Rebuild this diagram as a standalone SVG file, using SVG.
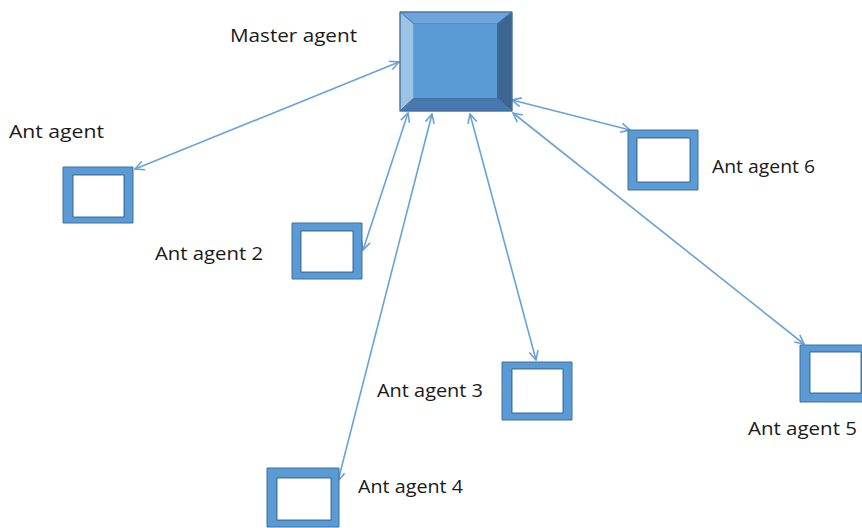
<svg xmlns="http://www.w3.org/2000/svg" width="862" height="528" viewBox="0 0 862 528">
  <defs>
    <style>
      .lbl { font-family: "Open Sans", "Noto Sans", "Liberation Sans", sans-serif; font-size: 18px; fill: #1a1a1a; }
      .frame { fill: #5b9bd5; stroke: #41719c; stroke-width: 1; fill-rule: evenodd; }
      .hole { fill: #ffffff; stroke: #41719c; stroke-width: 1; }
      .link { stroke: #68a2da; stroke-width: 1.6; fill: none; marker-start: url(#tip); marker-end: url(#tip); }
      .bevel { stroke: #41719c; stroke-width: 0.8; }
    </style>
    <marker id="tip" viewBox="0 0 11 11" refX="10" refY="5.5" markerWidth="11" markerHeight="11" markerUnits="userSpaceOnUse" orient="auto-start-reverse">
      <path d="M1,1 L10,5.5 L1,10" fill="none" stroke="#68a2da" stroke-width="1.6"/>
    </marker>
  </defs>

  <rect width="862" height="528" fill="#ffffff"/>

  <!-- connectors -->
  <g id="connectors">
    <line class="link" x1="399" y1="62" x2="135" y2="169"/>
    <line class="link" x1="408" y1="113" x2="363" y2="250"/>
    <line class="link" x1="432" y1="114" x2="338" y2="481"/>
    <line class="link" x1="470" y1="114" x2="536" y2="360"/>
    <line class="link" x1="513" y1="113" x2="804" y2="344"/>
    <line class="link" x1="512" y1="100" x2="630" y2="130"/>
  </g>

  <!-- master agent: bevelled box -->
  <g id="master">
    <polygon points="400,12 512,12 497,24 414,24" fill="#6fa3db" class="bevel"/>
    <polygon points="400,12 414,24 414,98 400,111" fill="#9dc3e6" class="bevel"/>
    <polygon points="512,12 512,111 497,98 497,24" fill="#3c6591" class="bevel"/>
    <polygon points="400,111 414,98 497,98 512,111" fill="#4878b0" class="bevel"/>
    <rect x="414" y="24" width="83" height="74" fill="#5b9bd5"/>
    <rect x="400" y="12" width="112" height="99" fill="none" stroke="#41719c" stroke-width="1"/>
    <text class="lbl" x="230" y="42" textLength="127" lengthAdjust="spacingAndGlyphs">Master agent</text>
  </g>

  <g id="ant1">
    <path class="frame" d="M63,167 H133 V223 H63 Z M73,175 V217 H124 V175 Z"/>
    <rect class="hole" x="73" y="175" width="51" height="42"/>
    <text class="lbl" x="9" y="138" textLength="95" lengthAdjust="spacingAndGlyphs">Ant agent</text>
  </g>

  <g id="ant2">
    <path class="frame" d="M292,223 H362 V279 H292 Z M301,231 V272 H353 V231 Z"/>
    <rect class="hole" x="301" y="231" width="52" height="41"/>
    <text class="lbl" x="155" y="260" textLength="108" lengthAdjust="spacingAndGlyphs">Ant agent 2</text>
  </g>

  <g id="ant3">
    <path class="frame" d="M502,362 H572 V420 H502 Z M512,369 V413 H563 V369 Z"/>
    <rect class="hole" x="512" y="369" width="51" height="44"/>
    <text class="lbl" x="377" y="397" textLength="106" lengthAdjust="spacingAndGlyphs">Ant agent 3</text>
  </g>

  <g id="ant4">
    <path class="frame" d="M267,468 H339 V527 H267 Z M277,478 V520 H331 V478 Z"/>
    <rect class="hole" x="277" y="478" width="54" height="42"/>
    <text class="lbl" x="358" y="493" textLength="105" lengthAdjust="spacingAndGlyphs">Ant agent 4</text>
  </g>

  <g id="ant5">
    <path class="frame" d="M800,345 H870 V402 H800 Z M810,352 V393 H861 V352 Z"/>
    <rect class="hole" x="810" y="352" width="51" height="41"/>
    <text class="lbl" x="748" y="435" textLength="109" lengthAdjust="spacingAndGlyphs">Ant agent 5</text>
  </g>

  <g id="ant6">
    <path class="frame" d="M628,130 H698 V190 H628 Z M637,138 V182 H690 V138 Z"/>
    <rect class="hole" x="637" y="138" width="53" height="44"/>
    <text class="lbl" x="712" y="173" textLength="103" lengthAdjust="spacingAndGlyphs">Ant agent 6</text>
  </g>
</svg>
